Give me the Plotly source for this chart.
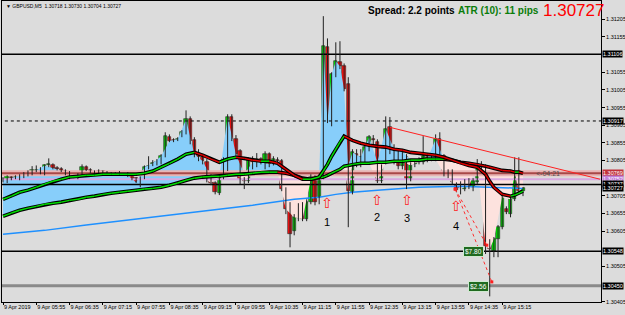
import plotly.graph_objects as go

# ---------------- data ----------------
opens = [1.30749,1.30746,1.30758,1.30755,1.30755,1.30758,1.30763,1.30766,1.30775,1.30777,
         1.30766,1.30791,1.30791,1.30783,1.30780,1.30775,1.30769,1.30758,1.30755,1.30763,
         1.30786,1.30777,1.30772,1.30772,1.30775,1.30769,1.30769,1.30766,1.30769,1.30766,
         1.30769,1.30766,1.30755,1.30743,1.30755,1.30786,1.30794,1.30797,1.30797,1.30817,
         1.30871,1.30862,1.30862,1.30874,1.30882,1.30922,1.30862,1.30826,1.30814,1.30800,
         1.30758,1.30741,1.30712,1.30758,1.30780,1.30928,1.30865,1.30831,1.30752,1.30746,
         1.30809,1.30797,1.30809,1.30794,1.30823,1.30797,1.30806,1.30803,1.30724,1.30681,
         1.30605,1.30641,1.30678,1.30639,1.30687,1.30758,1.30701,1.30760,1.31126,1.30916,
         1.31049,1.31083,1.31072,1.31021,1.30715,1.30823,1.30791,1.30809,1.30843,1.30865,
         1.30857,1.30746,1.30800,1.30899,1.30831,1.30831,1.30789,1.30814,1.30752,1.30794,
         1.30800,1.30800,1.30814,1.30809,1.30809,1.30865,1.30817,1.30760,1.30775,1.30738,
         1.30729,1.30724,1.30749,1.30729,1.30743,1.30791,1.30786,1.30573,1.30548,1.30582,
         1.30616,1.30667,1.30653,1.30695,1.30772,1.30718]
highs = [1.30758,1.30763,1.30760,1.30763,1.30766,1.30772,1.30777,1.30789,1.30791,1.30786,
         1.30794,1.30811,1.30797,1.30789,1.30786,1.30780,1.30775,1.30763,1.30769,1.30794,
         1.30791,1.30783,1.30777,1.30780,1.30777,1.30775,1.30772,1.30772,1.30775,1.30769,
         1.30772,1.30769,1.30758,1.30760,1.30791,1.30817,1.30806,1.30809,1.30823,1.30885,
         1.30879,1.30868,1.30871,1.30891,1.30947,1.30930,1.30871,1.30837,1.30823,1.30809,
         1.30766,1.30746,1.30763,1.30814,1.30936,1.30936,1.30877,1.30837,1.30758,1.30814,
         1.30817,1.30826,1.30814,1.30831,1.30828,1.30817,1.30814,1.30809,1.30729,1.30687,
         1.30653,1.30684,1.30687,1.30695,1.30766,1.30763,1.30766,1.31214,1.31151,1.31055,
         1.31140,1.31143,1.31080,1.31041,1.30837,1.30837,1.30837,1.30851,1.30877,1.30877,
         1.30865,1.30794,1.30930,1.30928,1.30851,1.30837,1.30837,1.30823,1.30800,1.30809,
         1.30814,1.30874,1.30823,1.30823,1.30879,1.30885,1.30823,1.30780,1.30780,1.30743,
         1.30746,1.30752,1.30755,1.30755,1.30809,1.30803,1.30794,1.30582,1.30588,1.30622,
         1.30707,1.30675,1.30701,1.30814,1.30814,1.30730]
lows = [1.30743,1.30741,1.30749,1.30752,1.30749,1.30755,1.30760,1.30763,1.30772,1.30766,
        1.30763,1.30786,1.30780,1.30777,1.30772,1.30763,1.30752,1.30755,1.30752,1.30760,
        1.30775,1.30769,1.30766,1.30769,1.30766,1.30766,1.30763,1.30763,1.30763,1.30763,
        1.30758,1.30749,1.30741,1.30729,1.30752,1.30780,1.30789,1.30791,1.30794,1.30814,
        1.30857,1.30857,1.30860,1.30871,1.30879,1.30851,1.30814,1.30803,1.30794,1.30743,
        1.30735,1.30709,1.30707,1.30752,1.30775,1.30860,1.30814,1.30738,1.30724,1.30741,
        1.30780,1.30786,1.30794,1.30780,1.30786,1.30791,1.30797,1.30718,1.30653,1.30559,
        1.30593,1.30633,1.30633,1.30633,1.30681,1.30678,1.30681,1.30752,1.30911,1.30902,
        1.31041,1.31064,1.31001,1.30616,1.30709,1.30786,1.30786,1.30800,1.30831,1.30845,
        1.30741,1.30741,1.30794,1.30823,1.30794,1.30780,1.30780,1.30724,1.30746,1.30786,
        1.30794,1.30794,1.30800,1.30803,1.30803,1.30809,1.30760,1.30755,1.30738,1.30715,
        1.30709,1.30718,1.30724,1.30718,1.30738,1.30772,1.30540,1.30420,1.30531,1.30531,
        1.30610,1.30653,1.30644,1.30690,1.30712,1.30704]
closes = [1.30752,1.30760,1.30755,1.30758,1.30763,1.30766,1.30772,1.30777,1.30777,1.30769,
          1.30791,1.30794,1.30783,1.30780,1.30775,1.30766,1.30758,1.30757,1.30766,1.30786,
          1.30777,1.30772,1.30773,1.30775,1.30769,1.30770,1.30766,1.30769,1.30766,1.30765,
          1.30763,1.30752,1.30743,1.30752,1.30786,1.30789,1.30797,1.30800,1.30817,1.30874,
          1.30860,1.30861,1.30865,1.30885,1.30922,1.30860,1.30823,1.30814,1.30803,1.30760,
          1.30741,1.30715,1.30758,1.30809,1.30928,1.30865,1.30823,1.30752,1.30746,1.30809,
          1.30800,1.30809,1.30800,1.30823,1.30794,1.30809,1.30803,1.30724,1.30667,1.30596,
          1.30644,1.30678,1.30639,1.30687,1.30758,1.30687,1.30758,1.31129,1.30916,1.31049,
          1.31086,1.31072,1.31007,1.30718,1.30828,1.30794,1.30814,1.30843,1.30871,1.30862,
          1.30746,1.30789,1.30894,1.30828,1.30837,1.30789,1.30831,1.30752,1.30791,1.30800,
          1.30803,1.30817,1.30809,1.30814,1.30865,1.30817,1.30766,1.30775,1.30743,1.30721,
          1.30726,1.30746,1.30732,1.30746,1.30794,1.30780,1.30562,1.30554,1.30582,1.30616,
          1.30701,1.30658,1.30695,1.30772,1.30718,1.30727]

ma_bars = [0,2,4,6,8,10,12,14,16,18,20,22,24,26,28,30,32,34,36,38,40,42,44,46,48,50,52,54,56,58,
           60,62,64,66,68,70,72,74,76,77,78,79,80,81,82,83,84,86,88,90,92,94,96,98,100,102,104,
           106,108,110,112,114,116,117,118,120,122,123,124,125]
fast_ma = [1.30695,1.30704,1.30715,1.30721,1.30729,1.30738,1.30746,1.30752,1.30758,1.30760,
           1.30763,1.30763,1.30766,1.30766,1.30766,1.30766,1.30766,1.30769,1.30775,1.30786,
           1.30797,1.30809,1.30823,1.30828,1.30820,1.30809,1.30800,1.30809,1.30814,1.30811,
           1.30806,1.30803,1.30803,1.30797,1.30780,1.30763,1.30752,1.30752,1.30758,
           1.30775,1.30794,1.30817,1.30837,1.30857,1.30874,1.30868,
           1.30862,1.30854,1.30848,1.30845,1.30843,1.30837,1.30834,1.30828,1.30826,1.30823,
           1.30820,1.30814,1.30806,1.30797,1.30791,1.30786,1.30766,
           1.30746,1.30729,1.30709,1.30704,1.30707,1.30712,1.30718]
slow_ma = [1.30647,1.30656,1.30664,1.30670,1.30675,1.30681,1.30684,1.30687,1.30692,1.30695,
           1.30701,1.30704,1.30709,1.30712,1.30715,1.30718,1.30721,1.30724,1.30726,1.30729,
           1.30735,1.30741,1.30749,1.30755,1.30758,1.30760,1.30760,1.30763,1.30766,1.30766,
           1.30769,1.30772,1.30772,1.30772,1.30769,1.30763,1.30755,1.30752,1.30755,
           1.30758,1.30763,1.30769,1.30775,1.30780,1.30789,1.30791,
           1.30794,1.30797,1.30797,1.30800,1.30800,1.30803,1.30803,1.30806,1.30806,1.30809,
           1.30809,1.30809,1.30806,1.30800,1.30797,1.30794,1.30789,
           1.30786,1.30783,1.30777,1.30775,1.30772,1.30772,1.30769]

long_ma_bars = [0,10,20,30,40,50,60,70,76,80,84,90,100,110,117,125]
long_ma = [1.30596,1.30607,1.30622,1.30636,1.30650,1.30664,1.30678,1.30695,1.30701,1.30709,
           1.30715,1.30721,1.30729,1.30732,1.30729,1.30726]

tick_bars = list(range(0, 121, 8))
tick_text = ["9 Apr 2019","9 Apr 05:55","9 Apr 06:35","9 Apr 07:15","9 Apr 07:55","9 Apr 08:35",
             "9 Apr 09:15","9 Apr 09:55","9 Apr 10:35","9 Apr 11:15","9 Apr 11:55","9 Apr 12:35",
             "9 Apr 13:15","9 Apr 13:55","9 Apr 14:35","9 Apr 15:15"]
# price scale labels (those hidden under the marker boxes are left out)
price_ticks = [1.30405, 1.30505, 1.30605, 1.30655, 1.30705, 1.30805, 1.30855,
               1.30905, 1.30955, 1.31005, 1.31055, 1.31155, 1.31205]

# horizontal levels: (price, colour, width, dash)
levels = [(1.31106, "black", 1.5, "solid"), (1.30917, "black", 1, "dot"),
          (1.30548, "black", 1.5, "solid"), (1.30450, "#8a8a8a", 3, "solid"),
          (1.30752, "#d8a8e0", 2, "solid"), (1.30737, "black", 1.5, "solid")]
brown_level = 1.30769
# boxes on the price scale: (price, bg colour)
price_boxes = [(1.31106, "black"), (1.30917, "black"), (1.30769, "#c0303a"), (1.30752, "#c080d8"),
               (1.30737, "black"), (1.30727, "black"), (1.30548, "black"), (1.30450, "black")]

trend_bars = [93, 143.5]
trend_prices = [1.30899, 1.30752]

trade_open = (108.7, 1.30724)
trade_closes = [(117.5, 1.30461), (116.3, 1.30565)]
profit_labels = [("$7.80", 113.2, 1.30548), ("$2.56", 114.2, 1.30448)]

signal_bars = [78, 90, 97, 109]
signal_arrow_prices = [1.30684, 1.30692, 1.30692, 1.30675]
signal_label_prices = [1.30632, 1.30645, 1.30642, 1.30618]
signal_labels = ["1", "2", "3", "4"]

# ---------------- figure ----------------
fig = go.Figure()
n = len(closes)
close_at = [closes[b] for b in ma_bars]
upper = [max(c, s) for c, s in zip(close_at, slow_ma)]
lower = [min(c, s) for c, s in zip(close_at, slow_ma)]

fig.add_trace(go.Scatter(x=ma_bars, y=slow_ma, mode="lines", line=dict(width=0), hoverinfo="skip"))
fig.add_trace(go.Scatter(x=ma_bars, y=upper, mode="lines", line=dict(width=0), fill="tonexty",
                         fillcolor="#87cefa", hoverinfo="skip"))
fig.add_trace(go.Scatter(x=ma_bars, y=slow_ma, mode="lines", line=dict(width=0), hoverinfo="skip"))
fig.add_trace(go.Scatter(x=ma_bars, y=lower, mode="lines", line=dict(width=0), fill="tonexty",
                         fillcolor="#fde2de", hoverinfo="skip"))

xr = [-1, 145]
# brown level with pink halo
fig.add_trace(go.Scatter(x=xr, y=[brown_level] * 2, mode="lines", line=dict(color="#e9b4b4", width=6)))
fig.add_trace(go.Scatter(x=xr, y=[brown_level] * 2, mode="lines", line=dict(color="#a84848", width=2)))
for p, col, w, d in levels:
    fig.add_trace(go.Scatter(x=xr, y=[p, p], mode="lines", line=dict(color=col, width=w, dash=d)))

fig.add_trace(go.Scatter(x=long_ma_bars, y=long_ma, mode="lines", line=dict(color="#1e90ff", width=1.5)))

# wicks
wx, wy = [], []
for i in range(n):
    wx += [i, i, None]
    wy += [lows[i], highs[i], None]
fig.add_trace(go.Scatter(x=wx, y=wy, mode="lines", line=dict(color="#202020", width=1)))

# bodies
for up, col in [(True, "#00e600"), (False, "#ff1010")]:
    bx, base, hgt = [], [], []
    for i in range(n):
        if (closes[i] >= opens[i]) == up:
            bx.append(i)
            lo = min(opens[i], closes[i])
            base.append(lo)
            hgt.append(max(abs(closes[i] - opens[i]), 0.000018))
    fig.add_trace(go.Bar(x=bx, y=hgt, base=base, width=0.8, marker=dict(color=col,
                         line=dict(color="#202020", width=0.6))))

# MA lines: black outline + green (rising) / red (falling)
def seg(xs, ys):
    g = ([], [])
    r = ([], [])
    for k in range(len(xs) - 1):
        t = g if ys[k + 1] >= ys[k] else r
        t[0].extend([xs[k], xs[k + 1], None])
        t[1].extend([ys[k], ys[k + 1], None])
    return g, r

for ma in (slow_ma, fast_ma):
    fig.add_trace(go.Scatter(x=ma_bars, y=ma, mode="lines", line=dict(color="black", width=3.6)))
    g, r = seg(ma_bars, ma)
    fig.add_trace(go.Scatter(x=g[0], y=g[1], mode="lines", line=dict(color="#00e000", width=1.5)))
    fig.add_trace(go.Scatter(x=r[0], y=r[1], mode="lines", line=dict(color="#e00000", width=1.5)))

# trend line
fig.add_trace(go.Scatter(x=trend_bars, y=trend_prices, mode="lines", line=dict(color="#ff2020", width=1)))

# trade lines
for cb, cp in trade_closes:
    fig.add_trace(go.Scatter(x=[trade_open[0], cb], y=[trade_open[1], cp], mode="lines+markers",
                             line=dict(color="#ff3030", width=1, dash="dot"),
                             marker=dict(color="#ff2020", size=3, symbol="square")))

ann = []
def px_x(px):
    return (px - 2) / 599
def px_y(py):
    return (302 - py) / 301

# signal arrows and numbers
for b, pa, pl, t in zip(signal_bars, signal_arrow_prices, signal_label_prices, signal_labels):
    ann.append(dict(x=b, y=pa, xref="x", yref="y", text="⇧", showarrow=False,
                    font=dict(color="#ff2020", size=14, family="DejaVu Sans")))
    ann.append(dict(x=b, y=pl, xref="x", yref="y", text=t, showarrow=False,
                    font=dict(color="black", size=11, family="Liberation Sans")))

for t, b, p in profit_labels:
    ann.append(dict(x=b, y=p, xref="x", yref="y", text=t, showarrow=False, bgcolor="#1f6a1f",
                    bordercolor="#d0e8d0", borderwidth=1, borderpad=1,
                    font=dict(color="white", size=6.5, family="Liberation Sans")))

for p, bg in price_boxes:
    ann.append(dict(x=1, y=p, xref="paper", yref="y", xanchor="left", xshift=1, text=f"{p:.5f}",
                    showarrow=False, bgcolor=bg, borderpad=0,
                    font=dict(color="white", size=5.5, family="Liberation Sans")))

# header and info texts
ann.append(dict(x=px_x(4), y=px_y(6), xref="paper", yref="paper", xanchor="left", yanchor="middle",
                text="▼ GBPUSD,M5  1.30718 1.30730 1.30704 1.30727", showarrow=False,
                font=dict(color="black", size=5, family="Liberation Sans")))
ann.append(dict(x=px_x(366), y=px_y(11), xref="paper", yref="paper", xanchor="left", yanchor="middle",
                text="<b>Spread: 2.2 points</b>", showarrow=False,
                font=dict(color="black", size=10, family="Liberation Sans")))
ann.append(dict(x=px_x(456), y=px_y(11), xref="paper", yref="paper", xanchor="left", yanchor="middle",
                text="<b>ATR (10): 11 pips</b>", showarrow=False,
                font=dict(color="#0a7d0a", size=10, family="Liberation Sans")))
ann.append(dict(x=px_x(541), y=px_y(11), xref="paper", yref="paper", xanchor="left", yanchor="middle",
                text="1.30727", showarrow=False,
                font=dict(color="#ff0000", size=17, family="Liberation Sans")))
ann.append(dict(x=px_x(534), y=px_y(173.5), xref="paper", yref="paper", xanchor="left", yanchor="middle",
                text="<-04:21", showarrow=False,
                font=dict(color="#505050", size=7, family="Liberation Sans")))

bg = "#dcdcdc"
fig.update_layout(
    width=625, height=315, margin=dict(l=2, r=24, t=1, b=13, autoexpand=False),
    paper_bgcolor=bg, plot_bgcolor=bg, showlegend=False, barmode="overlay", bargap=0,
    annotations=ann,
    xaxis=dict(range=[-0.24, 143.75], showgrid=False, zeroline=False, showline=True, linecolor="black",
               linewidth=1, mirror=True, ticks="outside", ticklen=2, tickcolor="black",
               tickvals=tick_bars, ticktext=tick_text, ticklabelposition="outside right",
               ticklabelstandoff=-1, tickangle=0,
               tickfont=dict(size=5.5, color="black", family="Liberation Sans"), fixedrange=True,
               automargin=False),
    yaxis=dict(range=[1.30404, 1.31257], side="right", showgrid=False, zeroline=False, showline=True,
               linecolor="black", linewidth=1, mirror=True, ticks="outside", ticklen=3,
               tickcolor="black", tickvals=price_ticks, ticktext=[f"{p:.5f}" for p in price_ticks],
               tickfont=dict(size=5.5, color="black", family="Liberation Sans"), fixedrange=True,
               automargin=False),
)
fig.write_html("out.html")
